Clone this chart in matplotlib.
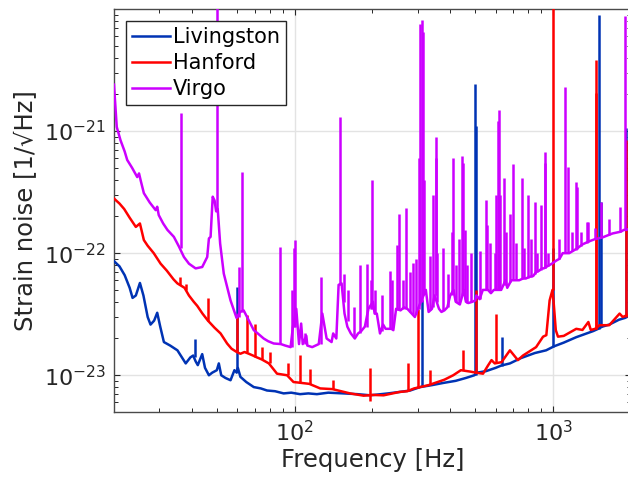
import numpy as np
import matplotlib
matplotlib.use("Agg")
import matplotlib.pyplot as plt
from matplotlib.ticker import LogLocator, FuncFormatter, NullFormatter, FixedLocator

# ---------------- data: frequency [Hz] and strain noise [1/sqrt(Hz)] ----------------
# broadband noise floors
liv_freq = [20, 21, 22, 23, 23.6, 24.3, 25.2, 26.0, 27, 27.7, 28.6, 29.4, 30.2, 31.2, 33, 35.2,
            37.9, 39.5, 40.5, 41.4, 42.2, 43.9, 45, 46.6, 48, 50.0, 50.9, 52, 54, 56.5, 58.5,
            59.7, 60.3, 61.7, 65, 69.5, 74, 78.2, 84, 90.7, 97, 105, 113, 122, 135, 154.7, 175,
            196, 230, 255, 280, 306, 340, 376, 420, 460, 496, 508, 550, 600, 630, 681, 750, 850,
            940, 995, 1005, 1100, 1230, 1430, 1495, 1550, 1650, 1800, 1900, 1960, 2000]
liv_asd = [8.6e-23, 7.8e-23, 6.6e-23, 5.2e-23, 4.3e-23, 4.5e-23, 5.7e-23, 4.5e-23, 3.0e-23,
           2.6e-23, 2.8e-23, 3.25e-23, 2.5e-23, 1.87e-23, 1.75e-23, 1.6e-23, 1.25e-23, 1.4e-23,
           1.45e-23, 1.3e-23, 1.21e-23, 1.49e-23, 1.15e-23, 1.0e-23, 1.05e-23, 1.1e-23, 1.25e-23,
           1.0e-23, 0.95e-23, 0.91e-23, 1.1e-23, 1.05e-23, 1.15e-23, 0.97e-23, 0.88e-23, 8.0e-24,
           7.8e-24, 7.5e-24, 7.4e-24, 7.1e-24, 7.2e-24, 7.0e-24, 7.1e-24, 7.0e-24, 7.2e-24,
           7.1e-24, 7.0e-24, 6.85e-24, 7.1e-24, 7.3e-24, 7.5e-24, 8.0e-24, 8.3e-24, 8.65e-24,
           9.0e-24, 9.5e-24, 1.0e-23, 1.05e-23, 1.08e-23, 1.15e-23, 1.2e-23, 1.25e-23, 1.38e-23,
           1.52e-23, 1.6e-23, 1.7e-23, 1.72e-23, 1.85e-23, 2.05e-23, 2.3e-23, 2.4e-23, 2.5e-23,
           2.6e-23, 2.85e-23, 2.95e-23, 3.05e-23, 3.1e-23]

han_freq = [20, 21, 21.9, 23, 24.3, 25.2, 26.1, 27, 28.5, 30.3, 32, 34, 35.2, 37.5, 39, 40.7,
            42, 44, 46.2, 49, 51.7, 54.8, 57, 59.7, 61.7, 64, 66.5, 69, 71.5, 74.5, 79.5, 85.5,
            93.5, 99, 104, 114, 125.6, 140, 164, 185, 200, 221, 255, 273, 290, 330, 380, 411,
            440, 480, 502, 536, 560, 578, 595, 632, 681, 731, 765, 860, 915, 942, 970, 995, 1005,
            1025, 1045, 1100, 1230, 1300, 1370, 1400, 1455, 1515, 1650, 1810, 1860, 1930, 2000]
han_asd = [2.8e-22, 2.55e-22, 2.3e-22, 1.95e-22, 1.64e-22, 1.75e-22, 1.28e-22, 1.15e-22, 1.0e-22,
           8.2e-23, 7.2e-23, 6.1e-23, 5.65e-23, 5.2e-23, 4.5e-23, 4.0e-23, 3.7e-23, 3.2e-23,
           2.8e-23, 2.45e-23, 2.2e-23, 1.82e-23, 1.65e-23, 1.55e-23, 1.5e-23, 1.55e-23, 1.5e-23,
           1.45e-23, 1.4e-23, 1.35e-23, 1.25e-23, 1.03e-23, 1.0e-23, 8.8e-24, 8.7e-24, 8.5e-24,
           7.8e-24, 7.7e-24, 7.1e-24, 6.8e-24, 6.9e-24, 6.85e-24, 7.3e-24, 7.4e-24, 7.8e-24,
           8.3e-24, 9.2e-24, 1.0e-23, 1.1e-23, 1.07e-23, 1.05e-23, 1.03e-23, 1.2e-23, 1.33e-23,
           1.25e-23, 1.28e-23, 1.6e-23, 1.33e-23, 1.45e-23, 1.7e-23, 2.07e-23, 2.13e-23, 4.1e-23,
           5.0e-23, 4.0e-23, 2.34e-23, 2.07e-23, 2.1e-23, 2.4e-23, 2.35e-23, 2.73e-23, 2.35e-23,
           2.4e-23, 2.57e-23, 2.57e-23, 3.2e-23, 3.0e-23, 3.1e-23, 3.2e-23]

vir_freq = [20, 20.3, 20.5, 21.2, 22, 22.5, 23.5, 24.6, 25, 25.4, 26.1, 27.5, 29, 29.4, 29.8, 31,
            32.2, 34.1, 35.7, 37.3, 39, 41.4, 43.9, 45.9, 46.6, 47.3, 48.2, 49, 49.7, 50.4, 51.5,
            53.2, 56.5, 59.6, 61.5, 63.5, 66, 69.5, 72, 75.9, 79, 83, 88.5, 92, 96.5, 98.5,
            101.5, 104, 106, 107.5, 111, 112, 117, 124, 128, 133, 139, 141, 145, 148, 152, 156,
            160, 165, 171, 176, 181, 187, 193, 201, 204, 208, 214, 220, 225, 237, 241, 247, 257,
            265, 273, 280, 292, 300, 322, 330, 340, 348, 362, 370, 380, 390, 400, 412, 420, 436,
            452, 460, 470, 488, 500, 505, 520, 535, 560, 575, 590, 630, 655, 665, 690, 710, 740,
            765, 785, 810, 838, 860, 885, 906, 920, 950, 990, 1030, 1060, 1090, 1125, 1155, 1200,
            1245, 1300, 1380, 1450, 1515, 1560, 1700, 1830, 1880, 1920, 2000]
vir_asd = [2.4e-21, 1.5e-21, 1.08e-21, 8.4e-22, 6.8e-22, 5.8e-22, 5.0e-22, 4.2e-22, 4.5e-22,
           3.9e-22, 3.1e-22, 2.6e-22, 2.25e-22, 2.4e-22, 2.05e-22, 1.75e-22, 1.55e-22, 1.36e-22,
           1.13e-22, 9.3e-23, 8.2e-23, 7.5e-23, 7.7e-23, 9.3e-23, 1.32e-22, 1.36e-22, 2.9e-22,
           2.7e-22, 2.2e-22, 2.3e-22, 1.2e-22, 6.8e-23, 4.1e-23, 2.95e-23, 3.3e-23, 3.4e-23,
           2.9e-23, 2.34e-23, 2.2e-23, 2.0e-23, 1.9e-23, 1.82e-23, 1.8e-23, 1.75e-23, 1.7e-23,
           2.5e-23, 3.5e-23, 1.8e-23, 2.65e-23, 1.8e-23, 2.1e-23, 1.75e-23, 1.7e-23, 1.8e-23,
           3.2e-23, 2.0e-23, 1.87e-23, 2.2e-23, 2.0e-23, 5.5e-23, 5.65e-23, 3.2e-23, 2.5e-23,
           2.2e-23, 2.0e-23, 2.2e-23, 2.3e-23, 2.5e-23, 3.5e-23, 4.0e-23, 3.2e-23, 3.2e-23,
           2.2e-23, 2.6e-23, 2.4e-23, 2.4e-23, 2.34e-23, 3.5e-23, 3.4e-23, 3.6e-23, 3.5e-23,
           3.3e-23, 3.0e-23, 3.5e-23, 5.0e-23, 3.3e-23, 3.5e-23, 4.5e-23, 3.5e-23, 3.3e-23,
           3.4e-23, 3.6e-23, 4.5e-23, 5.0e-23, 4.0e-23, 3.8e-23, 5.0e-23, 4.0e-23, 3.9e-23,
           4.0e-23, 4.1e-23, 4.5e-23, 4.2e-23, 5.0e-23, 5.0e-23, 4.7e-23, 5.0e-23, 5.0e-23,
           6.0e-23, 5.2e-23, 6.0e-23, 6.0e-23, 6.0e-23, 6.2e-23, 6.2e-23, 6.4e-23, 6.5e-23,
           7.0e-23, 7.2e-23, 7.5e-23, 7.5e-23, 7.8e-23, 8.2e-23, 8.7e-23, 9.0e-23, 1.0e-22,
           1.0e-22, 1.0e-22, 1.05e-22, 1.1e-22, 1.18e-22, 1.25e-22, 1.3e-22, 1.33e-22, 1.35e-22,
           1.45e-22, 1.5e-22, 1.55e-22, 1.55e-22, 1.6e-22]

# narrow spectral lines: frequency, line top, line foot
liv_line_freq = [41.0, 60.0, 310, 499, 505, 632, 1000, 1506, 1540, 1920]
liv_line_top = [1.97e-23, 5.3e-23, 4.1e-23, 2.43e-21, 1.1e-21, 2.07e-23, 1.1e-22, 8.9e-21,
                2.6e-22, 1.05e-21]
liv_line_foot = [1.4e-23, 1.1e-23, 8.1e-24, 1.0e-23, 1.0e-23, 1.2e-23, 1.7e-23, 2.4e-23,
                 2.5e-23, 3.0e-23]

han_line_freq = [36, 38, 46.4, 60.1, 65.5, 70.5, 75, 80, 94, 105, 115, 141, 196, 275, 300, 335,
                 450, 505, 600, 1000, 1460, 1465, 1920]
han_line_top = [6.4e-23, 5.6e-23, 4.3e-23, 3.0e-23, 3.1e-23, 2.65e-23, 1.7e-23, 1.55e-23,
                1.26e-23, 1.46e-23, 1.13e-23, 9.1e-24, 1.14e-23, 1.25e-23, 3.5e-23, 1.1e-23,
                1.6e-23, 5.0e-23, 3.2e-23, 1.5e-20, 2.05e-21, 3.8e-21, 8.4e-22]
han_line_foot = [5.5e-23, 5.0e-23, 2.8e-23, 1.55e-23, 1.55e-23, 1.42e-23, 1.35e-23, 1.25e-23,
                 1.0e-23, 8.7e-24, 8.5e-24, 7.7e-24, 6.1e-24, 7.5e-24, 7.8e-24, 8.4e-24,
                 1.1e-23, 1.05e-23, 1.27e-23, 5.0e-23, 2.4e-23, 2.4e-23, 3.0e-23]

vir_line_freq = [36.5, 50, 60.8, 62.3, 87.5, 97.7, 99.5, 100.6, 110, 126.5, 150, 155, 161, 169,
                 179, 190, 197, 199, 205, 218, 233, 239, 250, 254, 262, 269, 280, 288, 296, 302,
                 305, 310, 315, 318, 335, 344, 352, 354, 357, 376, 392, 406, 409, 420, 432, 443,
                 447, 456, 465, 483, 520, 548, 553, 568, 595, 603, 610, 617, 622, 645, 660, 680,
                 701, 720, 757, 770, 800, 820, 850, 870, 899, 928, 933, 960, 1050, 1110, 1145,
                 1180, 1225, 1235, 1280, 1350, 1365, 1450, 1540, 1650, 1810, 1900]
vir_line_top = [1.4e-21, 1.5e-20, 7.7e-23, 4.6e-22, 1.13e-22, 5.0e-23, 1.1e-22, 1.28e-22,
                2.2e-23, 6.4e-23, 1.31e-21, 6.8e-23, 5.0e-23, 3.6e-23, 8.0e-23, 8.2e-23, 6.0e-23,
                4.0e-22, 5.0e-23, 4.5e-23, 7.2e-23, 6.0e-23, 1.16e-22, 2.1e-22, 6.0e-23,
                2.33e-22, 7.0e-23, 8.3e-23, 9.0e-23, 6.0e-22, 7.5e-21, 8.1e-21, 6.5e-21,
                4.0e-22, 9.5e-23, 3.0e-22, 6.0e-22, 8.9e-22, 1.0e-22, 1.1e-22, 6.8e-23, 1.5e-22,
                6.0e-22, 8.0e-23, 1.3e-22, 6.3e-22, 5.5e-22, 1.55e-22, 8.0e-23, 1.0e-22,
                1.05e-22, 2.7e-22, 1.7e-22, 1.2e-22, 1.0e-22, 3.0e-22, 1.2e-21, 1.5e-21, 3.0e-22,
                4.1e-22, 1.5e-22, 2.1e-22, 5.4e-22, 1.2e-22, 4.1e-22, 1.1e-22, 3.0e-22, 1.3e-22,
                2.6e-22, 1.0e-22, 2.5e-22, 5.5e-22, 6.7e-22, 1.0e-22, 1.3e-22, 2.3e-21, 5.1e-22,
                1.5e-22, 3.8e-22, 3.5e-22, 1.5e-22, 1.8e-22, 1.8e-22, 1.6e-22, 2.6e-22, 1.9e-22,
                2.4e-22, 8.8e-21]
vir_line_foot = [1.1e-22, 2.2e-22, 3.0e-23, 3.3e-23, 1.8e-23, 1.7e-23, 2.5e-23, 2.5e-23,
                 1.8e-23, 1.8e-23, 5.5e-23, 4.0e-23, 2.8e-23, 2.1e-23, 2.2e-23, 2.5e-23, 3.5e-23,
                 3.5e-23, 3.2e-23, 2.3e-23, 2.4e-23, 2.4e-23, 3.4e-23, 3.4e-23, 3.5e-23, 3.5e-23,
                 3.3e-23, 3.2e-23, 3.2e-23, 3.5e-23, 4.0e-23, 4.0e-23, 4.5e-23, 5.0e-23, 3.4e-23,
                 3.6e-23, 4.5e-23, 4.5e-23, 4.0e-23, 3.4e-23, 3.6e-23, 4.5e-23, 4.8e-23, 4.0e-23,
                 3.8e-23, 4.5e-23, 4.8e-23, 4.2e-23, 3.9e-23, 4.0e-23, 4.2e-23, 5.0e-23, 5.0e-23,
                 4.8e-23, 5.0e-23, 5.0e-23, 5.0e-23, 5.0e-23, 5.0e-23, 5.5e-23, 5.5e-23, 5.8e-23,
                 6.0e-23, 6.0e-23, 6.1e-23, 6.2e-23, 6.3e-23, 6.4e-23, 6.8e-23, 7.0e-23, 7.3e-23,
                 7.5e-23, 7.5e-23, 7.9e-23, 9.0e-23, 1.0e-22, 1.0e-22, 1.05e-22, 1.07e-22,
                 1.08e-22, 1.15e-22, 1.22e-22, 1.23e-22, 1.3e-22, 1.34e-22, 1.4e-22, 1.5e-22,
                 1.55e-22]

series_labels = ["Livingston", "Hanford", "Virgo"]
series_colors = ["#0033b4", "#ff0000", "#cc00ff"]
x_ticks = [100, 1000]
y_ticks = [1e-23, 1e-22, 1e-21]

# ---------------- figure ----------------
text_color = "#262626"
lw = 1.8
fig = plt.figure(figsize=(6.28, 4.87), dpi=100)
ax = fig.add_axes([0.1815, 0.154, 0.823, 0.8275])

series = [
    (liv_freq, liv_asd, liv_line_freq, liv_line_top, liv_line_foot),
    (han_freq, han_asd, han_line_freq, han_line_top, han_line_foot),
    (vir_freq, vir_asd, vir_line_freq, vir_line_top, vir_line_foot),
]
for i, ((f, a, lf, lt, lb), lab, col) in enumerate(zip(series, series_labels, series_colors)):
    z = 3 + i
    ax.plot(f, a, color=col, lw=lw, label=lab, zorder=z)
    ax.vlines(lf, lb, lt, color=col, lw=lw, zorder=z)

ax.set_xscale("log")
ax.set_yscale("log")
ax.set_xlim(20, 2000)
ax.set_ylim(5e-24, 9.99e-21)

ax.xaxis.set_major_locator(FixedLocator(x_ticks))
ax.yaxis.set_major_locator(FixedLocator(y_ticks))
ax.xaxis.set_minor_locator(LogLocator(base=10, subs=np.arange(2, 10), numticks=20))
ax.yaxis.set_minor_locator(LogLocator(base=10, subs=np.arange(2, 10), numticks=20))
fmt = FuncFormatter(lambda v, p: r"$\mathregular{10^{%d}}$" % int(round(np.log10(v))))
ax.xaxis.set_major_formatter(fmt)
ax.yaxis.set_major_formatter(fmt)
ax.xaxis.set_minor_formatter(NullFormatter())
ax.yaxis.set_minor_formatter(NullFormatter())

ax.tick_params(which="both", direction="in", top=True, right=True, color=text_color,
               labelcolor=text_color, labelsize=16)
ax.tick_params(which="major", length=4, width=0.8)
ax.tick_params(which="minor", length=3.2, width=0.7)
ax.tick_params(axis="y", pad=6)
ax.tick_params(axis="x", pad=6)

ax.grid(True, which="major", color="#e3e3e3", lw=1.0)
ax.set_axisbelow(True)
for s in ax.spines.values():
    s.set_color("#4a4a4a")
    s.set_linewidth(1.0)

ax.set_xlabel("Frequency [Hz]", fontsize=17.5, color=text_color, labelpad=2)
ax.set_ylabel("Strain noise [1/\u221aHz]", fontsize=17.5, color=text_color, labelpad=4)

leg = ax.legend(loc="upper left", bbox_to_anchor=(0.0232, 0.970), borderaxespad=0,
                fontsize=15, frameon=True, fancybox=False, framealpha=1,
                edgecolor="#262626", handlelength=1.8, handletextpad=0.15,
                labelspacing=0.28, borderpad=0.3)
leg.get_frame().set_linewidth(1.0)
leg.set_zorder(10)

fig.savefig("out.png", dpi=100)
